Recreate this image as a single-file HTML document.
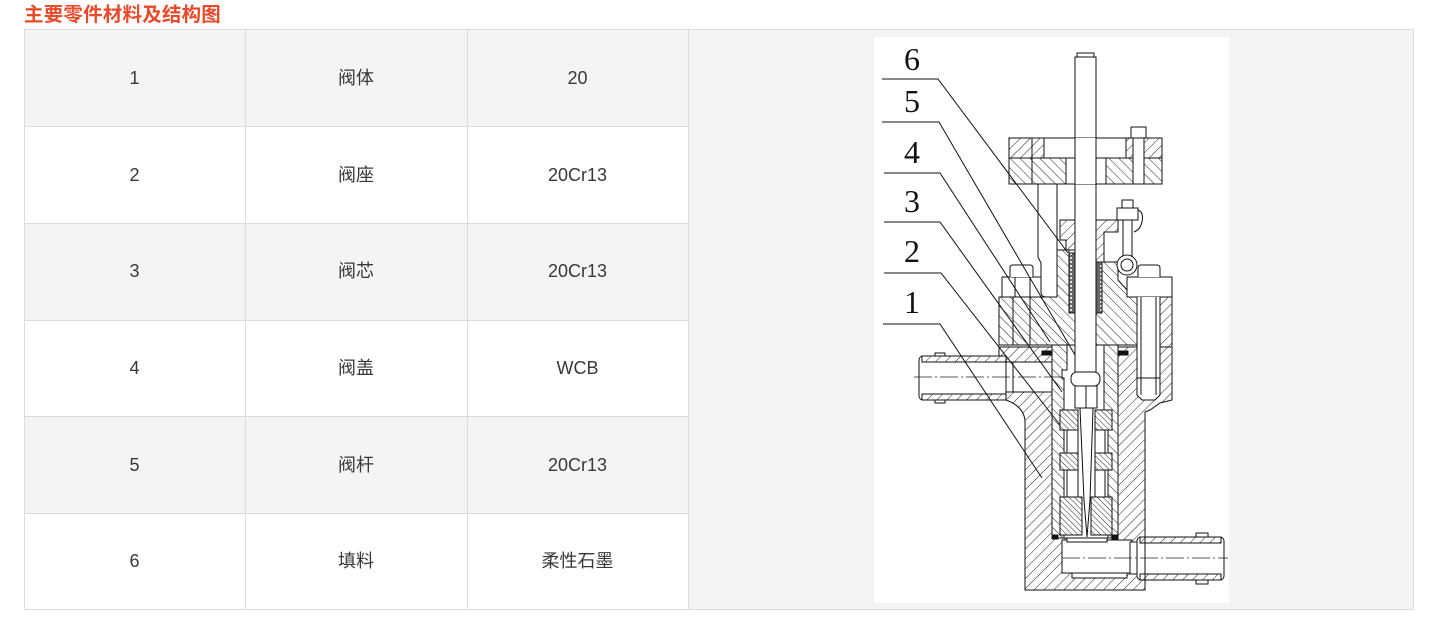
<!DOCTYPE html>
<html><head><meta charset="utf-8">
<style>
html,body{margin:0;padding:0;background:#fff;}
body{width:1436px;height:634px;position:relative;overflow:hidden;font-family:"Liberation Sans","Noto Sans CJK SC",sans-serif;}
.title{position:absolute;left:24px;top:2px;font-size:19.5px;font-weight:bold;color:#e84a2c;line-height:26px;letter-spacing:0.2px;font-family:"Liberation Sans","Noto Sans CJK SC",sans-serif;}
.bg{position:absolute;background:#f4f4f4;}
.h{position:absolute;height:1px;background:#dcdcdc;}
.v{position:absolute;width:1px;background:#dcdcdc;}
.c{position:absolute;font-size:18px;color:#383838;text-align:center;line-height:24px;}
</style></head><body>
<div class="title">主要零件材料及结构图</div>

<div class="bg" style="left:24px;top:29px;width:664px;height:97px"></div>
<div class="bg" style="left:24px;top:223px;width:664px;height:97px"></div>
<div class="bg" style="left:24px;top:416px;width:664px;height:97px"></div>
<div class="bg" style="left:688px;top:29px;width:725px;height:580px;background:#f3f3f3"></div>

<div class="h" style="left:24px;top:29px;width:1390px"></div>
<div class="h" style="left:24px;top:126px;width:664px"></div>
<div class="h" style="left:24px;top:223px;width:664px"></div>
<div class="h" style="left:24px;top:320px;width:664px"></div>
<div class="h" style="left:24px;top:416px;width:664px"></div>
<div class="h" style="left:24px;top:513px;width:664px"></div>
<div class="h" style="left:24px;top:609px;width:1390px"></div>
<div class="v" style="left:24px;top:29px;height:581px"></div>
<div class="v" style="left:245px;top:29px;height:581px"></div>
<div class="v" style="left:467px;top:29px;height:581px"></div>
<div class="v" style="left:688px;top:29px;height:581px"></div>
<div class="v" style="left:1413px;top:29px;height:581px"></div>

<div class="c" style="left:24px;top:66px;width:221px">1</div>
<div class="c" style="left:245px;top:66px;width:222px">阀体</div>
<div class="c" style="left:467px;top:66px;width:221px">20</div>
<div class="c" style="left:24px;top:163px;width:221px">2</div>
<div class="c" style="left:245px;top:163px;width:222px">阀座</div>
<div class="c" style="left:467px;top:163px;width:221px">20Cr13</div>
<div class="c" style="left:24px;top:259px;width:221px">3</div>
<div class="c" style="left:245px;top:259px;width:222px">阀芯</div>
<div class="c" style="left:467px;top:259px;width:221px">20Cr13</div>
<div class="c" style="left:24px;top:356px;width:221px">4</div>
<div class="c" style="left:245px;top:356px;width:222px">阀盖</div>
<div class="c" style="left:467px;top:356px;width:221px">WCB</div>
<div class="c" style="left:24px;top:453px;width:221px">5</div>
<div class="c" style="left:245px;top:453px;width:222px">阀杆</div>
<div class="c" style="left:467px;top:453px;width:221px">20Cr13</div>
<div class="c" style="left:24px;top:549px;width:221px">6</div>
<div class="c" style="left:245px;top:549px;width:222px">填料</div>
<div class="c" style="left:467px;top:549px;width:221px">柔性石墨</div>

<svg style="position:absolute;left:874px;top:37px" width="355" height="566" viewBox="874 37 355 566">
<defs>
<pattern id="hs" patternUnits="userSpaceOnUse" width="7" height="7" patternTransform="rotate(45)"><rect width="7" height="7" fill="#fff"/><line x1="0" y1="0" x2="0" y2="7" stroke="#222" stroke-width="1"/></pattern>
<pattern id="hb" patternUnits="userSpaceOnUse" width="7" height="7" patternTransform="rotate(-45)"><rect width="7" height="7" fill="#fff"/><line x1="0" y1="0" x2="0" y2="7" stroke="#222" stroke-width="1"/></pattern>
<pattern id="hf" patternUnits="userSpaceOnUse" width="4" height="4" patternTransform="rotate(-45)"><rect width="4" height="4" fill="#fff"/><line x1="0" y1="0" x2="0" y2="4" stroke="#222" stroke-width="1"/></pattern>
<pattern id="pk" patternUnits="userSpaceOnUse" width="6" height="4"><rect width="6" height="4" fill="#666"/><circle cx="3" cy="2" r="1.1" fill="#eee"/></pattern>
</defs>
<rect x="874" y="37" width="355" height="566" fill="#fff"/>

<g stroke="#111" stroke-width="1" fill="none">
<!-- body -->
<path d="M999,347 L1172,347 L1172,400 L1160,403 L1150,410 L1145,412 L1145,590 L1025,590 L1025,420 Q1023,406 1006,400 L999,398 Z" fill="url(#hs)"/>
<rect x="1052" y="338" width="66" height="200" fill="#fff"/>
<rect x="1006" y="362" width="46" height="30" fill="#fff"/>
<rect x="1062" y="540" width="70" height="33" fill="#fff"/>
<rect x="1130" y="542" width="8" height="32" fill="#fff"/>
<rect x="1072" y="573" width="55" height="5" fill="#fff"/>

<!-- left pipe -->
<rect x="919" y="356" width="87" height="44" rx="4" fill="#fff"/>
<rect x="922" y="356" width="84" height="6" fill="url(#hs)"/>
<rect x="922" y="394" width="84" height="6" fill="url(#hs)"/>
<rect x="935" y="353" width="10" height="3" fill="#fff"/>
<rect x="935" y="400" width="10" height="3" fill="#fff"/>
<line x1="1013" y1="362" x2="1013" y2="392"/>
<!-- right pipe -->
<rect x="1137" y="537" width="87" height="43" rx="4" fill="#fff"/>
<rect x="1140" y="537" width="81" height="6" fill="url(#hs)"/>
<rect x="1140" y="574" width="81" height="6" fill="url(#hs)"/>
<rect x="1196" y="533" width="12" height="4" fill="#fff"/>
<rect x="1196" y="580" width="12" height="4" fill="#fff"/>
<line x1="1145" y1="537" x2="1145" y2="580"/>

<!-- bore insert -->
<path d="M1052,340 H1067 V370 H1062 V378 H1064 V538 H1052 Z" fill="url(#hb)"/>
<path d="M1104,340 H1118 V538 H1108 V410 H1104 Z" fill="url(#hb)"/>
<rect x="1060" y="410" width="18" height="20" fill="url(#hf)"/>
<rect x="1095" y="410" width="17" height="20" fill="url(#hf)"/>
<rect x="1060" y="453" width="18" height="17" fill="url(#hf)"/>
<rect x="1095" y="453" width="17" height="17" fill="url(#hf)"/>
<rect x="1060" y="497" width="22" height="38" fill="url(#hf)"/>
<rect x="1091" y="497" width="21" height="38" fill="url(#hf)"/>
<rect x="1067" y="430" width="11" height="23" fill="#fff"/>
<rect x="1095" y="430" width="10" height="23" fill="#fff"/>
<rect x="1067" y="470" width="11" height="27" fill="#fff"/>
<rect x="1095" y="470" width="10" height="27" fill="#fff"/>
<rect x="1067" y="538" width="40" height="4" fill="#fff"/>

<!-- stem -->
<rect x="1075" y="57" width="21" height="316" fill="#fff"/>
<rect x="1077" y="53" width="17" height="4" fill="#fff"/>
<rect x="1071" y="372" width="29" height="14" rx="6" fill="#fff"/>
<rect x="1075" y="386" width="22" height="22" fill="#fff"/>
<path d="M1080,408 H1093 L1090,500 L1087,537 L1084,500 Z" fill="#fff"/>
<line x1="1086" y1="386" x2="1086" y2="408"/>

<!-- bonnet -->
<path d="M999,297 H1057 V250 H1069 V313 H1075 V345 H999 Z" fill="url(#hb)"/>
<path d="M1096,262 L1118,262 L1118,280 L1127,290 L1127,297 L1137,297 L1137,345 L1096,345 Z" fill="url(#hb)"/>
<rect x="1160" y="297" width="12" height="50" fill="url(#hs)"/>
<line x1="1013" y1="297" x2="1013" y2="345"/>
<line x1="1030" y1="297" x2="1030" y2="345"/>
<!-- left bolt/nut -->
<rect x="1002" y="277" width="41" height="20" fill="#fff"/>
<path d="M1010,277 V268 Q1010,265 1013,265 H1030 Q1033,265 1033,268 V277" fill="#fff"/>
<line x1="1015" y1="277" x2="1015" y2="297"/>
<line x1="1030" y1="277" x2="1030" y2="297"/>
<!-- right bolt/nut -->
<rect x="1127" y="277" width="45" height="20" fill="#fff"/>
<path d="M1138,277 V268 Q1138,265 1141,265 H1157 Q1160,265 1160,268 V277" fill="#fff"/>
<path d="M1137,297 V395 L1142,400 H1155 L1160,395 V297" fill="#fff"/>
<line x1="1137" y1="378" x2="1160" y2="378"/>
<line x1="1141" y1="297" x2="1141" y2="395"/>
<line x1="1156" y1="297" x2="1156" y2="395"/>

<!-- packing -->
<rect x="1069" y="253" width="6" height="60" fill="url(#pk)"/>
<rect x="1096" y="253" width="6" height="60" fill="url(#pk)"/>

<!-- gland -->
<path d="M1060,220 H1075 V250 H1066 V240 H1060 Z" fill="url(#hs)"/>
<path d="M1096,220 H1118 V232 H1104 V262 H1096 Z" fill="url(#hs)"/>
<!-- eye bolt -->
<rect x="1117" y="208" width="21" height="12" fill="#fff"/>
<rect x="1122" y="200" width="11" height="8" fill="#fff"/>
<rect x="1123" y="220" width="9" height="36" fill="#fff"/>
<path d="M1138,210 Q1144,212 1142,222 Q1140,230 1134,232"/>
<circle cx="1127" cy="265" r="10" fill="#fff"/>
<circle cx="1127" cy="265" r="6" fill="#fff"/>

<!-- post -->
<path d="M1038,184 V257 L1041,263 V292 Q1041,297 1046,297 H1057 V184" fill="#fff"/>

<!-- top plate -->
<rect x="1009" y="138" width="153" height="46" fill="#fff"/>
<rect x="1009" y="138" width="35" height="20" fill="url(#hs)"/>
<rect x="1009" y="158" width="57" height="26" fill="url(#hb)"/>
<rect x="1126" y="138" width="36" height="20" fill="url(#hs)"/>
<rect x="1106" y="158" width="56" height="26" fill="url(#hb)"/>
<line x1="1032" y1="138" x2="1032" y2="184"/>
<line x1="1066" y1="158" x2="1066" y2="184"/>
<line x1="1044" y1="158" x2="1126" y2="158"/>
<rect x="1133" y="127" width="11" height="57" fill="#fff"/>
<rect x="1131" y="127" width="15" height="11" fill="#fff"/>
<rect x="1075" y="138" width="21" height="46" fill="#fff" stroke="none"/>
<line x1="1075" y1="130" x2="1075" y2="190"/>
<line x1="1096" y1="130" x2="1096" y2="190"/>

<!-- gaskets -->
<rect x="1042" y="351" width="10" height="4" fill="#111"/>
<rect x="1118" y="351" width="10" height="4" fill="#111"/>
<rect x="1052" y="535" width="6" height="4" fill="#111"/>
<rect x="1112" y="535" width="6" height="4" fill="#111"/>

<!-- leader lines (on top) -->
<path d="M882,79 H938 L1068,253"/>
<path d="M882,122 H939 L1075,355"/>
<path d="M884,173 H940 L1050,342"/>
<path d="M884,222 H940 L1062,392"/>
<path d="M884,273 H941 L1060,425"/>
<path d="M883,324 H940 L1042,478"/>
</g>

<!-- center lines -->
<g stroke="#222" stroke-width="0.8" stroke-dasharray="18,3,2,3" fill="none">
<line x1="914" y1="377" x2="1062" y2="377"/>
<line x1="1062" y1="558" x2="1228" y2="558"/>
</g>

<g font-family="Liberation Serif, serif" font-size="32" fill="#111" text-anchor="middle">
<text x="912" y="70">6</text>
<text x="912" y="112">5</text>
<text x="912" y="163">4</text>
<text x="912" y="212">3</text>
<text x="912" y="262">2</text>
<text x="912" y="313">1</text>
</g>
</svg>
</body></html>
